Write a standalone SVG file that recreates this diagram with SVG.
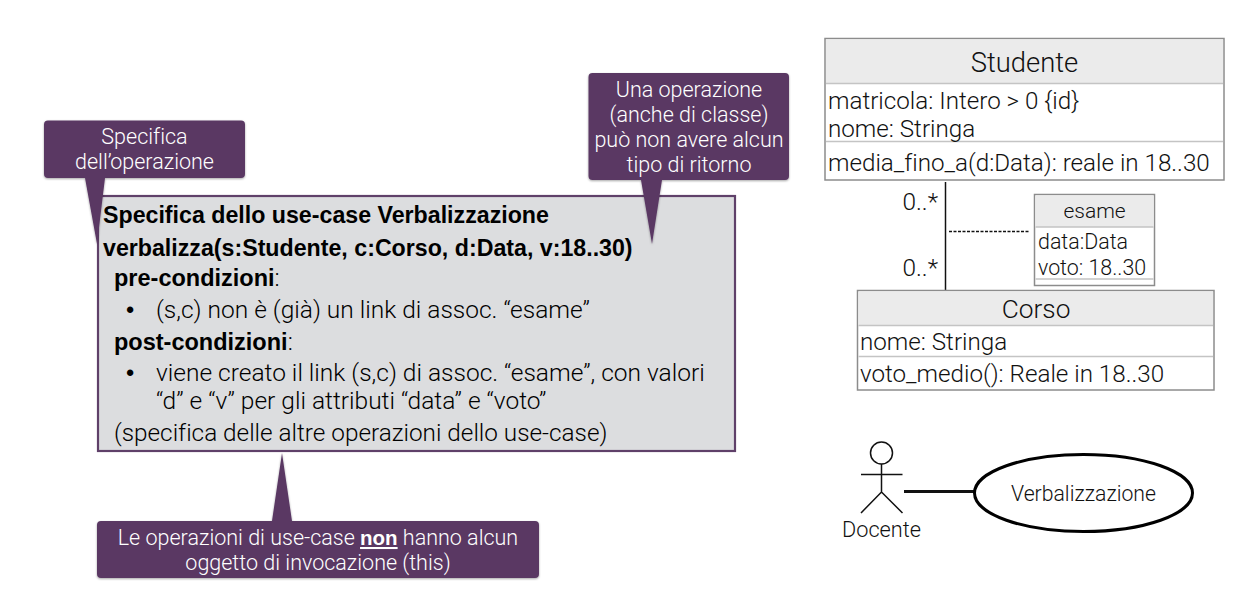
<svg xmlns="http://www.w3.org/2000/svg" width="1256" height="600" viewBox="0 0 1256 600">
<defs>
<filter id="sh" x="-5%" y="-5%" width="110%" height="115%"><feDropShadow dx="0" dy="1" stdDeviation="1" flood-color="#000" flood-opacity="0.35"/></filter>
</defs>
<style>
text{font-family:Roboto,"Liberation Sans",sans-serif;font-weight:300;fill:#111;font-variant-ligatures:none}
.c{fill:#5a3864}
.ct{fill:#fff;font-size:21.5px;text-anchor:middle}
.nb{font-family:"Liberation Sans",sans-serif;font-weight:700;font-size:20.5px;fill:#fff;text-decoration:underline}
.b{font-family:"Liberation Sans",sans-serif;font-weight:700;font-size:23.2px;fill:#000}
.bs{font-family:"Liberation Sans",sans-serif;font-weight:700;font-size:23.5px;fill:#000}
.m{font-size:24.5px;fill:#000}
.bu{font-family:"Liberation Sans",sans-serif;font-weight:400;font-size:23.5px;fill:#000}
.box{fill:#fff;stroke:#8c8c8c;stroke-width:1.5}
.hd{fill:#ebebeb}
.dv{stroke:#c4c4c4;stroke-width:1.5;fill:none}
.u{font-size:24.2px}
.s{font-size:21.4px}
.mu{font-size:24.4px;text-anchor:end}
.ln{stroke:#111;fill:none}
</style>
<rect width="1256" height="600" fill="#fff"/>
<g id="specifica">
<rect x="98" y="196" width="637" height="255" fill="#dcdddf" stroke="#5f4069" stroke-width="2.2"/>
<text class="b" x="103" y="223">Specifica dello use-case Verbalizzazione</text>
<text class="b" x="103" y="256">verbalizza(s:Studente, c:Corso, d:Data, v:18..30)</text>
<text class="m" x="114" y="286"><tspan class="bs">pre-condizioni</tspan>:</text>
<text class="bu" x="126" y="318">•</text>
<text class="m" x="156" y="318">(s,c) non è (già) un link di assoc. “esame”</text>
<text class="m" x="114" y="350"><tspan class="bs">post-condizioni</tspan>:</text>
<text class="bu" x="126" y="381">•</text>
<text class="m" x="156" y="381">viene creato il link (s,c) di assoc. “esame”, con valori</text>
<text class="m" x="156" y="409">“d” e “v” per gli attributi “data” e “voto”</text>
<text class="m" x="114" y="441" style="font-size:24.3px">(specifica delle altre operazioni dello use-case)</text>
</g>
<g id="callout-specifica">
<path class="c" filter="url(#sh)" d="M48 120.500H241a4 4 0 0 1 4 4V174a4 4 0 0 1-4 4H105L97 244L85 178H48a4 4 0 0 1-4-4V124.500a4 4 0 0 1 4-4Z"/>
<text class="ct" x="144.500" y="144">Specifica</text>
<text class="ct" x="144.500" y="169">dell’operazione</text>
</g>
<g id="callout-ritorno">
<path class="c" filter="url(#sh)" d="M592.500 73H785a4 4 0 0 1 4 4V176a4 4 0 0 1-4 4H662L652 244L641 180H592.500a4 4 0 0 1-4-4V77a4 4 0 0 1 4-4Z"/>
<text class="ct" x="689" y="97">Una operazione</text>
<text class="ct" x="689" y="122">(anche di classe)</text>
<text class="ct" x="689" y="147">può non avere alcun</text>
<text class="ct" x="689" y="172">tipo di ritorno</text>
</g>
<g id="callout-invocazione">
<path class="c" filter="url(#sh)" d="M101 521H272L282 453L292 521H535a4 4 0 0 1 4 4V574a4 4 0 0 1-4 4H101a4 4 0 0 1-4-4V525a4 4 0 0 1 4-4Z"/>
<text class="ct" x="318" y="545">Le operazioni di use-case <tspan class="nb">non</tspan> hanno alcun</text>
<text class="ct" x="318" y="570">oggetto di invocazione (this)</text>
</g>
<g id="connectors">
<path class="ln" stroke-width="1.500" d="M945.500 182V290"/>
<path class="ln" stroke-width="1.500" stroke-dasharray="3 1.500" d="M949 231.500H1029.500"/>
<path class="ln" stroke-width="3" d="M904 491.500H975"/>
</g>
<g id="studente">
<rect class="box" x="825" y="38.500" width="399" height="141.500"/>
<rect class="hd" x="826" y="39.500" width="397" height="44"/>
<path class="dv" d="M826 83.500H1223M826 141.500H1223"/>
<text x="1024.500" y="72" text-anchor="middle" font-size="27.400">Studente</text>
<text class="u" x="828" y="109">matricola: Intero &gt; 0 {id}</text>
<text class="u" x="828" y="137">nome: Stringa</text>
<text class="u" x="828" y="171">media_fino_a(d:Data): reale in 18..30</text>
</g>
<g id="corso">
<rect class="box" x="857.500" y="290.500" width="356.500" height="99.500"/>
<rect class="hd" x="858.500" y="291.500" width="354.500" height="33.500"/>
<path class="dv" d="M858.500 325.500H1213M858.500 356.500H1213"/>
<text x="1036" y="318" text-anchor="middle" font-size="26.300">Corso</text>
<text class="u" x="860" y="350">nome: Stringa</text>
<text class="u" x="860" y="382">voto_medio(): Reale in 18..30</text>
</g>
<g id="esame">
<rect class="box" x="1034.500" y="194.500" width="120" height="91"/>
<rect class="hd" x="1035.500" y="195.500" width="118" height="31.500"/>
<path class="dv" d="M1035.500 227H1153.500M1035.500 279H1153.500"/>
<text x="1094.500" y="218" text-anchor="middle" font-size="21">esame</text>
<text class="s" x="1038" y="249">data:Data</text>
<text class="s" x="1038" y="275">voto: 18..30</text>
</g>
<g id="molteplicita">
<text class="mu" x="938" y="210">0..*</text>
<text class="mu" x="938" y="276">0..*</text>
</g>
<g id="docente">
<circle class="ln" cx="881.500" cy="453" r="11" stroke-width="1.500"/>
<path class="ln" stroke-width="1.500" d="M881.500 464V492M861 474.500H902.500M861 513L881.500 492L902.500 513"/>
<text x="881.500" y="537" text-anchor="middle" font-size="21.700">Docente</text>
</g>
<g id="verbalizzazione">
<ellipse cx="1083.500" cy="493" rx="109" ry="38.500" fill="#fff" stroke="#000" stroke-width="3"/>
<text x="1083.500" y="501" text-anchor="middle" font-size="21.200">Verbalizzazione</text>
</g>
</svg>
